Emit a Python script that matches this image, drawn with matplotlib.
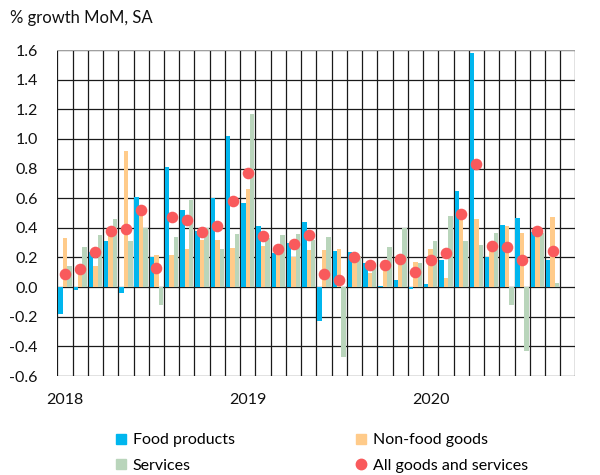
import numpy as np
import pandas as pd
import matplotlib
matplotlib.use("Agg")
import matplotlib.pyplot as plt
from matplotlib.lines import Line2D

# monthly data, Jan 2018 - Sep 2020
months = pd.date_range("2018-01-01", periods=33, freq="MS")
food = [-0.18, -0.02, 0.24, 0.31, -0.04, 0.61, 0.20, 0.81, 0.52, 0.38, 0.60, 1.02,
        0.57, 0.41, 0.23, 0.30, 0.44, -0.23, 0.245, 0.24, 0.16, 0.01, 0.05, -0.01,
        0.02, 0.185, 0.65, 1.58, 0.205, 0.42, 0.465, 0.37, 0.18]
nonfood = [0.33, 0.10, 0.14, 0.37, 0.92, 0.50, 0.22, 0.22, 0.26, 0.32, 0.32, 0.265,
           0.665, 0.28, 0.26, 0.205, 0.25, 0.25, 0.26, 0.19, 0.095, 0.17, 0.18, 0.17,
           0.255, 0.06, 0.46, 0.46, 0.27, 0.41, 0.365, 0.37, 0.47]
services = [0.14, 0.27, 0.35, 0.46, 0.31, 0.40, -0.12, 0.34, 0.59, 0.40, 0.26, 0.36,
            1.17, 0.33, 0.35, 0.36, 0.32, 0.34, -0.47, 0.21, 0.165, 0.27, 0.40, 0.16,
            0.31, 0.48, 0.31, 0.285, 0.365, -0.12, -0.43, 0.365, 0.03]
all_goods = [0.09, 0.12, 0.24, 0.38, 0.39, 0.52, 0.13, 0.475, 0.45, 0.37, 0.41, 0.58,
             0.77, 0.345, 0.26, 0.29, 0.35, 0.09, 0.05, 0.205, 0.15, 0.15, 0.19, 0.10,
             0.18, 0.23, 0.495, 0.83, 0.275, 0.27, 0.18, 0.38, 0.245]
series_labels = ["Food products", "Non-food goods", "Services", "All goods and services"]

BLUE = "#00B6EE"
ORANGE = "#FFCB8A"
GREEN = "#B9D5BB"
RED = "#F95A5C"

plt.rcParams["font.family"] = ["Lato", "DejaVu Sans"]

fig = plt.figure(figsize=(6, 4.75), dpi=100)
ax = fig.add_axes([0.0955, 0.2084, 0.8636, 0.6863])

x = np.arange(len(months)) + 0.5
w = 0.29
ax.bar(x - w, food, width=w, color=BLUE, zorder=3)
ax.bar(x, nonfood, width=w, color=ORANGE, zorder=3)
ax.bar(x + w, services, width=w, color=GREEN, zorder=3)
ax.scatter(x, all_goods, s=70, color=RED, zorder=4, linewidths=0)

# grid: every month boundary and every 0.2
ax.set_xlim(0, 34)
ax.set_ylim(-0.6, 1.6)
for xv in range(0, 35):
    ax.axvline(xv, color="#1a1a1a", lw=0.9, zorder=1)
yt = np.round(np.arange(-0.6, 1.61, 0.2), 1)
for yv in yt:
    ax.axhline(yv, color="#1a1a1a", lw=0.9, zorder=1)
ax.axhline(1.6, color="#bbbbbb", lw=1.2, zorder=1)

ax.set_yticks(yt)
ax.set_yticklabels([f"{v:.1f}" for v in yt])
year_pos = [x[i] for i, m in enumerate(months) if m.month == 1]
ax.set_xticks(year_pos)
ax.set_xticklabels([str(m.year) for m in months if m.month == 1])
ax.tick_params(length=0, labelsize=11.5, colors="#111111")
ax.tick_params(axis="y", pad=14)
ax.tick_params(axis="x", pad=12)
for s in ax.spines.values():
    s.set_visible(False)

fig.text(0.017, 0.962, "% growth MoM, SA", fontsize=12, color="#111111", va="center")

h_food = Line2D([], [], marker="s", ls="none", color=BLUE, markersize=7.5)
h_non = Line2D([], [], marker="s", ls="none", color=ORANGE, markersize=7.5)
h_srv = Line2D([], [], marker="s", ls="none", color=GREEN, markersize=7.5)
h_all = Line2D([], [], marker="o", ls="none", color=RED, markersize=7.5)
kw = dict(frameon=False, fontsize=11.5, handlelength=0.6, handletextpad=0.4,
          labelspacing=0.7, borderpad=0, loc="upper left")
fig.legend([h_food, h_srv], [series_labels[0], series_labels[2]],
           bbox_to_anchor=(0.181, 0.105), **kw)
fig.legend([h_non, h_all], [series_labels[1], series_labels[3]],
           bbox_to_anchor=(0.581, 0.105), **kw)

fig.savefig("out.png", dpi=100)
